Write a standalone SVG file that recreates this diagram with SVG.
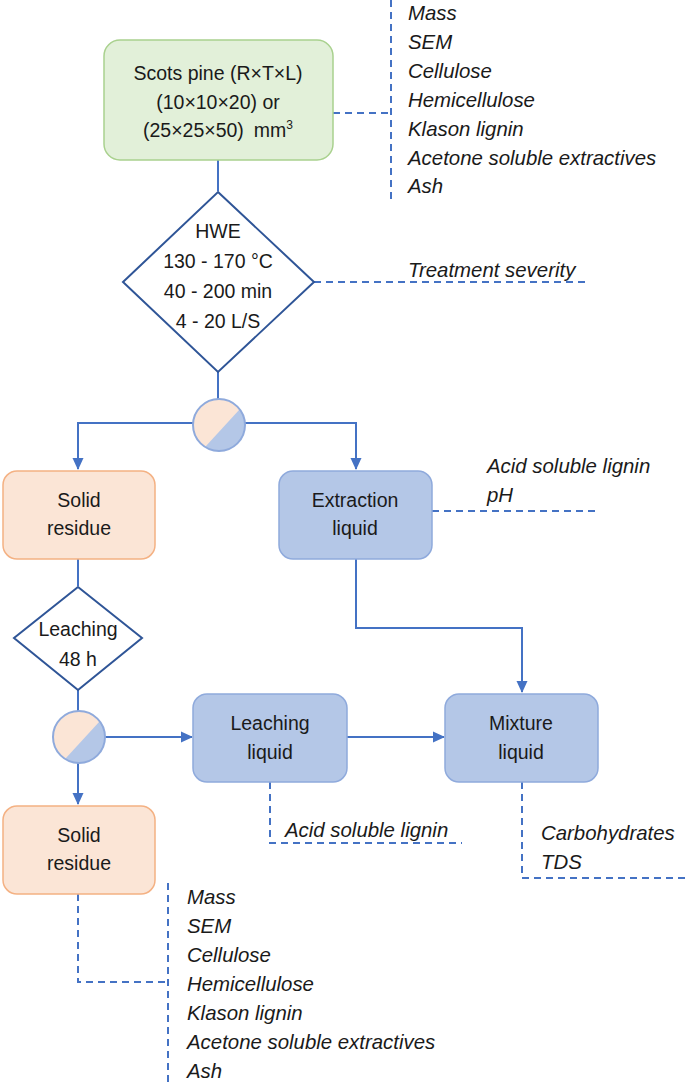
<svg xmlns="http://www.w3.org/2000/svg" width="685" height="1084" viewBox="0 0 685 1084">
<defs>
<marker id="arr" markerWidth="12" markerHeight="12" refX="11" refY="6" orient="auto" markerUnits="userSpaceOnUse">
<path d="M0,0.5 L12,6 L0,11.5 z" fill="#4472c4"/>
</marker>
<clipPath id="c1"><circle cx="219" cy="425" r="26"/></clipPath>
<clipPath id="c2"><circle cx="79" cy="737" r="26"/></clipPath>
</defs>
<style>
text{font-family:"Liberation Sans",Arial,sans-serif;font-size:19.5px;fill:#1a1a1a}
.c{text-anchor:middle}
.i{font-style:italic;font-size:20.4px}
.green{fill:#e2f0d9;stroke:#a9d18e;stroke-width:1.5}
.peach{fill:#fbe5d6;stroke:#f4b183;stroke-width:1.5}
.blue{fill:#b4c7e7;stroke:#8faadc;stroke-width:1.5}
.dia{fill:#fff;stroke:#2f5597;stroke-width:2}
.ln{fill:none;stroke:#4472c4;stroke-width:2}
.dash{fill:none;stroke:#4472c4;stroke-width:2;stroke-dasharray:7 5}
</style>
<g id="connectors">
<path class="ln" d="M218,160 V191"/>
<path class="ln" d="M218,372 V399"/>
<path class="ln" d="M193,423 H78 V469" marker-end="url(#arr)"/>
<path class="ln" d="M245,423 H356 V469" marker-end="url(#arr)"/>
<path class="ln" d="M78,559 V586"/>
<path class="ln" d="M78,690 V711"/>
<path class="ln" d="M356,559 V628 H522 V692" marker-end="url(#arr)"/>
<path class="ln" d="M105,737 H192" marker-end="url(#arr)"/>
<path class="ln" d="M347,737 H444" marker-end="url(#arr)"/>
<path class="ln" d="M78,763 V804" marker-end="url(#arr)"/>
<path class="dash" d="M333,113 H391"/>
<path class="dash" d="M391,0 V200"/>
<path class="dash" d="M314,282 H590"/>
<path class="dash" d="M432,511 H600"/>
<path class="dash" d="M270,782 V843 H462"/>
<path class="dash" d="M522,782 V878 H685"/>
<path class="dash" d="M78,894 V982 H168"/>
<path class="dash" d="M168,883 V1084"/>
</g>
<g id="scots-pine">
<rect class="green" x="104" y="40" width="229" height="120" rx="16"/>
<text class="c" x="218" y="80">Scots pine (R×T×L)</text>
<text class="c" x="218" y="109">(10×10×20) or</text>
<text class="c" x="218" y="137">(25×25×50)<tspan dx="10">mm</tspan><tspan font-size="12" dy="-8">3</tspan></text>
</g>
<g id="props-top">
<text class="i" x="408" y="20">Mass</text>
<text class="i" x="408" y="49">SEM</text>
<text class="i" x="408" y="78">Cellulose</text>
<text class="i" x="408" y="107">Hemicellulose</text>
<text class="i" x="408" y="136">Klason lignin</text>
<text class="i" x="408" y="165">Acetone soluble extractives</text>
<text class="i" x="408" y="193">Ash</text>
</g>
<g id="hwe">
<polygon class="dia" points="218,192 314,282 218,372 123,282"/>
<text class="c" x="218" y="238">HWE</text>
<text class="c" x="218" y="268">130 - 170 °C</text>
<text class="c" x="218" y="298">40 - 200 min</text>
<text class="c" x="218" y="328">4 - 20 L/S</text>
</g>
<g id="severity">
<text class="i" x="408" y="277">Treatment severity</text>
</g>
<g id="separator1">
<g clip-path="url(#c1)">
<rect x="190" y="396" width="60" height="60" fill="#b4c7e7"/>
<polygon points="190,396 250,396 250,398 195,458 190,458" fill="#fbe5d6"/>
</g>
<circle cx="219" cy="425" r="26" fill="none" stroke="#8faadc" stroke-width="2"/>
</g>
<g id="solid-residue-1">
<rect class="peach" x="3" y="471" width="152" height="88" rx="14"/>
<text class="c" x="79" y="507">Solid</text>
<text class="c" x="79" y="535">residue</text>
</g>
<g id="extraction-liquid">
<rect class="blue" x="279" y="471" width="153" height="88" rx="14"/>
<text class="c" x="355" y="507">Extraction</text>
<text class="c" x="355" y="535">liquid</text>
</g>
<g id="props-extraction">
<text class="i" x="487" y="473">Acid soluble lignin</text>
<text class="i" x="487" y="502">pH</text>
</g>
<g id="leaching">
<polygon class="dia" points="78,587 142,638 78,690 14,638"/>
<text class="c" x="78" y="636">Leaching</text>
<text class="c" x="78" y="666">48 h</text>
</g>
<g id="separator2">
<g clip-path="url(#c2)">
<rect x="50" y="708" width="60" height="60" fill="#b4c7e7"/>
<polygon points="50,708 110,708 110,710 55,770 50,770" fill="#fbe5d6"/>
</g>
<circle cx="79" cy="737" r="26" fill="none" stroke="#8faadc" stroke-width="2"/>
</g>
<g id="leaching-liquid">
<rect class="blue" x="193" y="694" width="154" height="88" rx="14"/>
<text class="c" x="270" y="730">Leaching</text>
<text class="c" x="270" y="759">liquid</text>
</g>
<g id="mixture-liquid">
<rect class="blue" x="445" y="694" width="153" height="88" rx="14"/>
<text class="c" x="521" y="730">Mixture</text>
<text class="c" x="521" y="759">liquid</text>
</g>
<g id="props-leaching">
<text class="i" x="285" y="837">Acid soluble lignin</text>
</g>
<g id="props-mixture">
<text class="i" x="541" y="840">Carbohydrates</text>
<text class="i" x="541" y="869">TDS</text>
</g>
<g id="solid-residue-2">
<rect class="peach" x="3" y="806" width="152" height="88" rx="14"/>
<text class="c" x="79" y="842">Solid</text>
<text class="c" x="79" y="870">residue</text>
</g>
<g id="props-bottom">
<text class="i" x="187" y="904">Mass</text>
<text class="i" x="187" y="933">SEM</text>
<text class="i" x="187" y="962">Cellulose</text>
<text class="i" x="187" y="991">Hemicellulose</text>
<text class="i" x="187" y="1020">Klason lignin</text>
<text class="i" x="187" y="1049">Acetone soluble extractives</text>
<text class="i" x="187" y="1078">Ash</text>
</g>
</svg>
